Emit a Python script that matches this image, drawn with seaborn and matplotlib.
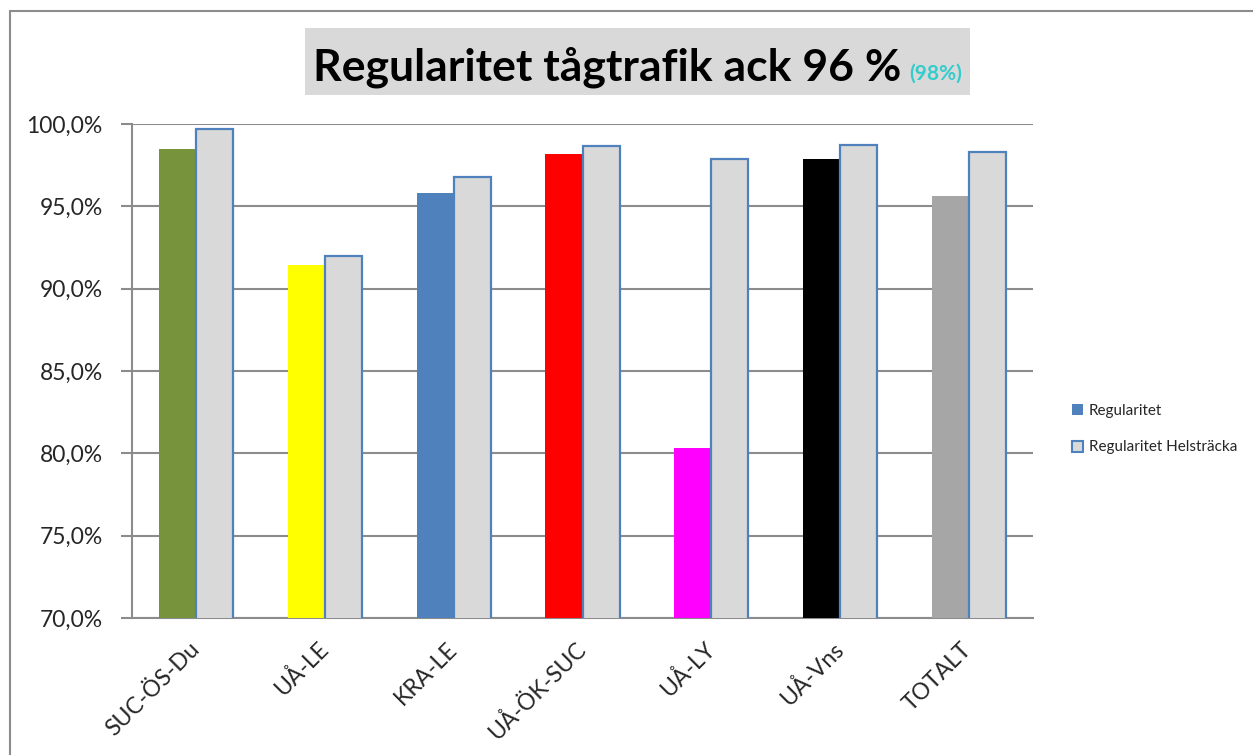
import matplotlib
matplotlib.use("Agg")
import matplotlib.pyplot as plt
import seaborn as sns
import pandas as pd
from matplotlib.patches import Rectangle, Patch
from matplotlib.lines import Line2D
from matplotlib.ticker import FuncFormatter

categories = ["SUC-ÖS-Du", "UÅ-LE", "KRA-LE", "UÅ-ÖK-SUC", "UÅ-LY", "UÅ-Vns", "TOTALT"]
regularitet = [98.5, 91.45, 95.8, 98.2, 80.3, 97.9, 95.6]
helstracka = [99.7, 92.0, 96.8, 98.65, 97.9, 98.75, 98.3]
series_names = ["Regularitet", "Regularitet Helsträcka"]
bar_colors = ["#77933C", "#FFFF00", "#4F81BD", "#FF0000", "#FF00FF", "#000000", "#A6A6A6"]
title_main = "Regularitet tågtrafik ack 96 %"
title_sub = "(98%)"

df = pd.DataFrame({
    "cat": categories * 2,
    "val": regularitet + helstracka,
    "series": [series_names[0]] * len(categories) + [series_names[1]] * len(categories),
})

sns.set_style("white")
plt.rcParams["font.family"] = ["Lato", "DejaVu Sans"]

W, H = 1253, 755
fig = plt.figure(figsize=(W / 100, H / 100), dpi=100)
ax = fig.add_axes([132 / W, 1 - 618 / H, (1033 - 132) / W, (618 - 124) / H])

sns.barplot(data=df, x="cat", y="val", hue="series", ax=ax, width=0.575, gap=0,
            palette=["#4F81BD", "#D9D9D9"], legend=False, saturation=1, errorbar=None)

n = len(categories)
bars = [p for p in ax.patches if isinstance(p, Rectangle)]
for i, p in enumerate(bars[:n]):
    p.set_facecolor(bar_colors[i])
    p.set_edgecolor("none")
    p.set_zorder(3)
for p in bars[n:2 * n]:
    p.set_facecolor("#D9D9D9")
    p.set_edgecolor("#4F81BD")
    p.set_linewidth(1.6)
    p.set_zorder(3)

ax.set_ylim(70, 100)
ax.set_xlim(-0.5, n - 0.5)
ax.set_yticks([70, 75, 80, 85, 90, 95, 100])
ax.yaxis.set_major_formatter(FuncFormatter(lambda v, _: f"{v:.1f}%".replace(".", ",")))
ax.yaxis.grid(True, color="#8C8C8C", linewidth=1.5, zorder=0)
ax.set_axisbelow(True)
ax.set_xlabel("")
ax.set_ylabel("")

for s in ["top", "right"]:
    ax.spines[s].set_visible(False)
for s in ["left", "bottom"]:
    ax.spines[s].set_color("#8C8C8C")
    ax.spines[s].set_linewidth(1.5)

# x ticks at group boundaries
ax.set_xticks([i - 0.5 for i in range(n + 1)])
ax.set_xticklabels([])
ax.tick_params(axis="x", which="major", length=8, color="#8C8C8C", width=1.5, direction="out")
ax.set_xticks(list(range(n)), minor=True)
ax.set_xticklabels(categories, minor=True, rotation=45, ha="right", va="center",
                   rotation_mode="anchor", fontsize=16.5)
ax.tick_params(axis="x", which="minor", length=0, pad=20)
ax.tick_params(axis="y", length=8, color="#8C8C8C", width=1.5, direction="out",
               labelsize=16.5, pad=13, left=True)

# legend
handles = [
    Patch(facecolor="#4F81BD", edgecolor="none"),
    Patch(facecolor="#D9D9D9", edgecolor="#4F81BD", linewidth=1.5),
]
fig.legend(handles, series_names, loc="center left", bbox_to_anchor=(1058 / W, 1 - 429 / H),
           frameon=False, fontsize=11, handlelength=0.75, handleheight=0.75,
           handletextpad=0.35, labelspacing=1.5)

# title box
fig.patches.append(Rectangle((305 / W, 1 - 95 / H), 665 / W, 67 / H,
                             transform=fig.transFigure, facecolor="#D9D9D9",
                             edgecolor="none", zorder=0))
t1 = fig.text(313 / W, 1 - 80 / H, title_main, fontsize=32, fontweight="bold",
              ha="left", va="baseline", color="black")
fig.canvas.draw()
bb = t1.get_window_extent()
fig.text((bb.x1 + 8) / W, 1 - 80 / H, title_sub, fontsize=15, fontweight="bold",
         ha="left", va="baseline", color="#33CCCC")

# figure border (left and top)
fig.add_artist(Line2D([10 / W, 10 / W], [0, 1 - 11 / H], transform=fig.transFigure,
                      color="#8C8C8C", linewidth=1.5))
fig.add_artist(Line2D([10 / W, 1], [1 - 11 / H, 1 - 11 / H], transform=fig.transFigure,
                      color="#8C8C8C", linewidth=1.5))

fig.savefig("out.png", dpi=100)
